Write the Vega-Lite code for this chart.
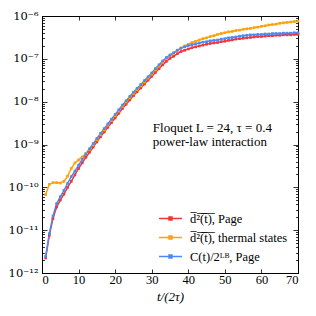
{
  "$schema": "https://vega.github.io/schema/vega-lite/v6.json",
  "width": 256,
  "height": 257,
  "autosize": "none",
  "padding": {"left": 42, "top": 16, "right": 18, "bottom": 43},
  "background": "white",
  "config": {
    "view": {"stroke": "black", "strokeWidth": 1},
    "axis": {"labelFont": "Liberation Serif", "labelFontSize": 12.5, "labelColor": "black", "tickColor": "black", "domainColor": "black", "domainWidth": 1, "tickWidth": 0.8, "grid": false, "titleFont": "Liberation Serif", "titleFontWeight": "normal", "titleColor": "black"}
  },
  "datasets": {
    "curves": [
      {"t":1,"s":"a","v":2.239e-12},{"t":2,"s":"a","v":7.586e-12},{"t":3,"s":"a","v":1.862e-11},{"t":4,"s":"a","v":3.467e-11},{"t":5,"s":"a","v":5.012e-11},{"t":6,"s":"a","v":6.918e-11},{"t":7,"s":"a","v":1.0e-10},{"t":8,"s":"a","v":1.380e-10},{"t":9,"s":"a","v":1.950e-10},{"t":10,"s":"a","v":2.754e-10},
      {"t":11,"s":"a","v":3.715e-10},{"t":12,"s":"a","v":5.012e-10},{"t":13,"s":"a","v":6.607e-10},{"t":14,"s":"a","v":8.710e-10},{"t":15,"s":"a","v":1.148e-9},{"t":16,"s":"a","v":1.514e-9},{"t":17,"s":"a","v":1.950e-9},{"t":18,"s":"a","v":2.512e-9},{"t":19,"s":"a","v":3.236e-9},{"t":20,"s":"a","v":4.169e-9},
      {"t":21,"s":"a","v":5.370e-9},{"t":22,"s":"a","v":6.918e-9},{"t":23,"s":"a","v":8.710e-9},{"t":24,"s":"a","v":1.096e-8},{"t":25,"s":"a","v":1.380e-8},{"t":26,"s":"a","v":1.698e-8},{"t":27,"s":"a","v":2.089e-8},{"t":28,"s":"a","v":2.570e-8},{"t":29,"s":"a","v":3.162e-8},{"t":30,"s":"a","v":3.890e-8},
      {"t":31,"s":"a","v":4.786e-8},{"t":32,"s":"a","v":5.888e-8},{"t":33,"s":"a","v":7.244e-8},{"t":34,"s":"a","v":8.710e-8},{"t":35,"s":"a","v":1.023e-7},{"t":36,"s":"a","v":1.148e-7},{"t":37,"s":"a","v":1.318e-7},{"t":38,"s":"a","v":1.479e-7},{"t":39,"s":"a","v":1.585e-7},{"t":40,"s":"a","v":1.698e-7},
      {"t":41,"s":"a","v":1.820e-7},{"t":42,"s":"a","v":1.905e-7},{"t":43,"s":"a","v":1.995e-7},{"t":44,"s":"a","v":2.089e-7},{"t":45,"s":"a","v":2.188e-7},{"t":46,"s":"a","v":2.291e-7},{"t":47,"s":"a","v":2.344e-7},{"t":48,"s":"a","v":2.399e-7},{"t":49,"s":"a","v":2.512e-7},{"t":50,"s":"a","v":2.570e-7},
      {"t":51,"s":"a","v":2.692e-7},{"t":52,"s":"a","v":2.754e-7},{"t":53,"s":"a","v":2.884e-7},{"t":54,"s":"a","v":2.951e-7},{"t":55,"s":"a","v":3.020e-7},{"t":56,"s":"a","v":3.090e-7},{"t":57,"s":"a","v":3.162e-7},{"t":58,"s":"a","v":3.236e-7},{"t":59,"s":"a","v":3.311e-7},{"t":60,"s":"a","v":3.311e-7},
      {"t":61,"s":"a","v":3.388e-7},{"t":62,"s":"a","v":3.467e-7},{"t":63,"s":"a","v":3.467e-7},{"t":64,"s":"a","v":3.548e-7},{"t":65,"s":"a","v":3.548e-7},{"t":66,"s":"a","v":3.631e-7},{"t":67,"s":"a","v":3.631e-7},{"t":68,"s":"a","v":3.631e-7},{"t":69,"s":"a","v":3.715e-7},{"t":70,"s":"a","v":3.715e-7},
      {"t":1,"s":"b","v":6.761e-11},{"t":2,"s":"b","v":1.175e-10},{"t":3,"s":"b","v":1.288e-10},{"t":4,"s":"b","v":1.288e-10},{"t":5,"s":"b","v":1.259e-10},{"t":6,"s":"b","v":1.380e-10},{"t":7,"s":"b","v":1.820e-10},{"t":8,"s":"b","v":2.754e-10},{"t":9,"s":"b","v":3.715e-10},{"t":10,"s":"b","v":4.365e-10},
      {"t":11,"s":"b","v":5.129e-10},{"t":12,"s":"b","v":6.166e-10},{"t":13,"s":"b","v":7.586e-10},{"t":14,"s":"b","v":9.772e-10},{"t":15,"s":"b","v":1.288e-9},{"t":16,"s":"b","v":1.698e-9},{"t":17,"s":"b","v":2.188e-9},{"t":18,"s":"b","v":2.818e-9},{"t":19,"s":"b","v":3.631e-9},{"t":20,"s":"b","v":4.677e-9},
      {"t":21,"s":"b","v":6.026e-9},{"t":22,"s":"b","v":7.762e-9},{"t":23,"s":"b","v":9.772e-9},{"t":24,"s":"b","v":1.230e-8},{"t":25,"s":"b","v":1.549e-8},{"t":26,"s":"b","v":1.905e-8},{"t":27,"s":"b","v":2.344e-8},{"t":28,"s":"b","v":2.884e-8},{"t":29,"s":"b","v":3.548e-8},{"t":30,"s":"b","v":4.365e-8},
      {"t":31,"s":"b","v":5.495e-8},{"t":32,"s":"b","v":6.761e-8},{"t":33,"s":"b","v":8.318e-8},{"t":34,"s":"b","v":1.0e-7},{"t":35,"s":"b","v":1.175e-7},{"t":36,"s":"b","v":1.349e-7},{"t":37,"s":"b","v":1.585e-7},{"t":38,"s":"b","v":1.778e-7},{"t":39,"s":"b","v":1.995e-7},{"t":40,"s":"b","v":2.188e-7},
      {"t":41,"s":"b","v":2.399e-7},{"t":42,"s":"b","v":2.570e-7},{"t":43,"s":"b","v":2.754e-7},{"t":44,"s":"b","v":2.951e-7},{"t":45,"s":"b","v":3.090e-7},{"t":46,"s":"b","v":3.311e-7},{"t":47,"s":"b","v":3.467e-7},{"t":48,"s":"b","v":3.715e-7},{"t":49,"s":"b","v":3.890e-7},{"t":50,"s":"b","v":4.074e-7},
      {"t":51,"s":"b","v":4.266e-7},{"t":52,"s":"b","v":4.365e-7},{"t":53,"s":"b","v":4.571e-7},{"t":54,"s":"b","v":4.677e-7},{"t":55,"s":"b","v":4.898e-7},{"t":56,"s":"b","v":5.012e-7},{"t":57,"s":"b","v":5.129e-7},{"t":58,"s":"b","v":5.370e-7},{"t":59,"s":"b","v":5.495e-7},{"t":60,"s":"b","v":5.754e-7},
      {"t":61,"s":"b","v":5.888e-7},{"t":62,"s":"b","v":6.166e-7},{"t":63,"s":"b","v":6.310e-7},{"t":64,"s":"b","v":6.457e-7},{"t":65,"s":"b","v":6.761e-7},{"t":66,"s":"b","v":6.918e-7},{"t":67,"s":"b","v":7.079e-7},{"t":68,"s":"b","v":7.244e-7},{"t":69,"s":"b","v":7.413e-7},{"t":70,"s":"b","v":7.586e-7},
      {"t":1,"s":"c","v":2.455e-12},{"t":2,"s":"c","v":8.318e-12},{"t":3,"s":"c","v":2.138e-11},{"t":4,"s":"c","v":4.169e-11},{"t":5,"s":"c","v":6.026e-11},{"t":6,"s":"c","v":8.511e-11},{"t":7,"s":"c","v":1.230e-10},{"t":8,"s":"c","v":1.778e-10},{"t":9,"s":"c","v":2.399e-10},{"t":10,"s":"c","v":3.311e-10},
      {"t":11,"s":"c","v":4.467e-10},{"t":12,"s":"c","v":6.026e-10},{"t":13,"s":"c","v":7.943e-10},{"t":14,"s":"c","v":1.047e-9},{"t":15,"s":"c","v":1.380e-9},{"t":16,"s":"c","v":1.820e-9},{"t":17,"s":"c","v":2.344e-9},{"t":18,"s":"c","v":3.020e-9},{"t":19,"s":"c","v":3.890e-9},{"t":20,"s":"c","v":5.012e-9},
      {"t":21,"s":"c","v":6.457e-9},{"t":22,"s":"c","v":8.318e-9},{"t":23,"s":"c","v":1.047e-8},{"t":24,"s":"c","v":1.318e-8},{"t":25,"s":"c","v":1.660e-8},{"t":26,"s":"c","v":2.042e-8},{"t":27,"s":"c","v":2.512e-8},{"t":28,"s":"c","v":3.090e-8},{"t":29,"s":"c","v":3.802e-8},{"t":30,"s":"c","v":4.677e-8},
      {"t":31,"s":"c","v":5.888e-8},{"t":32,"s":"c","v":7.244e-8},{"t":33,"s":"c","v":8.913e-8},{"t":34,"s":"c","v":1.072e-7},{"t":35,"s":"c","v":1.230e-7},{"t":36,"s":"c","v":1.380e-7},{"t":37,"s":"c","v":1.585e-7},{"t":38,"s":"c","v":1.778e-7},{"t":39,"s":"c","v":1.905e-7},{"t":40,"s":"c","v":2.042e-7},
      {"t":41,"s":"c","v":2.138e-7},{"t":42,"s":"c","v":2.239e-7},{"t":43,"s":"c","v":2.344e-7},{"t":44,"s":"c","v":2.455e-7},{"t":45,"s":"c","v":2.512e-7},{"t":46,"s":"c","v":2.630e-7},{"t":47,"s":"c","v":2.692e-7},{"t":48,"s":"c","v":2.754e-7},{"t":49,"s":"c","v":2.884e-7},{"t":50,"s":"c","v":2.951e-7},
      {"t":51,"s":"c","v":3.090e-7},{"t":52,"s":"c","v":3.162e-7},{"t":53,"s":"c","v":3.236e-7},{"t":54,"s":"c","v":3.388e-7},{"t":55,"s":"c","v":3.467e-7},{"t":56,"s":"c","v":3.548e-7},{"t":57,"s":"c","v":3.631e-7},{"t":58,"s":"c","v":3.631e-7},{"t":59,"s":"c","v":3.715e-7},{"t":60,"s":"c","v":3.715e-7},
      {"t":61,"s":"c","v":3.802e-7},{"t":62,"s":"c","v":3.802e-7},{"t":63,"s":"c","v":3.890e-7},{"t":64,"s":"c","v":3.890e-7},{"t":65,"s":"c","v":3.890e-7},{"t":66,"s":"c","v":3.981e-7},{"t":67,"s":"c","v":3.981e-7},{"t":68,"s":"c","v":3.981e-7},{"t":69,"s":"c","v":4.074e-7},{"t":70,"s":"c","v":4.074e-7}
    ],
    "notes": [
      {"k": 1, "t": 30.3, "v": 1.95e-9, "label": "Floquet L = 24, τ = 0.4"},
      {"k": 2, "t": 30.3, "v": 9.2e-10, "label": "power-law interaction"}
    ]
  },
  "layer": [
    {
      "data": {"name": "curves"},
      "mark": {"type": "line", "strokeWidth": 1.5},
      "encoding": {
        "x": {"field": "t", "type": "quantitative", "scale": {"domain": [0, 70], "nice": false, "zero": false},
              "axis": {"orient": "bottom", "values": [0,10,20,30,40,50,60,70], "tickSize": -4, "labelPadding": 4, "title": "t/(2τ)", "titleFontSize": 13, "titlePadding": 5, "titleFontStyle": "italic"}},
        "y": {"field": "v", "type": "quantitative", "scale": {"type": "log", "domain": [1e-12, 1e-6], "nice": false},
              "axis": {"orient": "left", "values": [1e-12,1e-11,1e-10,1e-9,1e-8,1e-7,1e-6], "tickSize": -5, "labelPadding": 9, "title": null, "labelFont": "DejaVu Serif", "labelFontSize": 11.5,
                       "labelExpr": "datum.value < 3e-12 ? '10⁻¹²' : datum.value < 3e-11 ? '10⁻¹¹' : datum.value < 3e-10 ? '10⁻¹⁰' : datum.value < 3e-9 ? '10⁻⁹' : datum.value < 3e-8 ? '10⁻⁸' : datum.value < 3e-7 ? '10⁻⁷' : '10⁻⁶'"}},
        "color": {"field": "s", "type": "nominal",
                  "scale": {"domain": ["a", "b", "c"], "range": ["#f0363a", "#ffa10a", "#4a8af4"]},
                  "legend": {"title": null, "orient": "bottom-right", "offset": 10, "padding": 0,
                             "labelFont": "Liberation Serif", "labelFontSize": 12.5, "labelColor": "black", "labelOffset": 7, "rowPadding": -7,
                             "symbolType": "M-1,0H1M-0.13,-0.13H0.13V0.13H-0.13Z", "symbolSize": 529, "symbolStrokeWidth": 1.5,
                             "labelExpr": "datum.value == 'a' ? 'd̅²̅(̅t̅)̅, Page' : datum.value == 'b' ? 'd̅²̅(̅t̅)̅, thermal states' : 'C(t)/2ᴸᴮ, Page'",
                             "encode": {"symbols": {"update": {"fill": {"scale": "color", "field": "value"}, "stroke": {"scale": "color", "field": "value"}}}}}}
      }
    },
    {
      "data": {"name": "curves"},
      "mark": {"type": "point", "shape": "square", "filled": true, "size": 7, "opacity": 1},
      "encoding": {
        "x": {"field": "t", "type": "quantitative", "axis": null},
        "y": {"field": "v", "type": "quantitative",
              "axis": {"orient": "left", "values": [2e-12,3e-12,4e-12,5e-12,6e-12,7e-12,8e-12,9e-12,2e-11,3e-11,4e-11,5e-11,6e-11,7e-11,8e-11,9e-11,2e-10,3e-10,4e-10,5e-10,6e-10,7e-10,8e-10,9e-10,2e-9,3e-9,4e-9,5e-9,6e-9,7e-9,8e-9,9e-9,2e-8,3e-8,4e-8,5e-8,6e-8,7e-8,8e-8,9e-8,2e-7,3e-7,4e-7,5e-7,6e-7,7e-7,8e-7,9e-7], "tickSize": -2.5, "labels": false, "domain": false, "title": null}},
        "color": {"field": "s", "type": "nominal"}
      }
    },
    {
      "data": {"name": "notes"},
      "transform": [{"filter": "datum.k == 1"}],
      "mark": {"type": "text", "align": "left", "baseline": "alphabetic", "font": "Liberation Serif", "fontSize": 13, "color": "black"},
      "encoding": {
        "x": {"field": "t", "type": "quantitative", "axis": {"orient": "top", "values": [0,10,20,30,40,50,60,70], "tickSize": -4, "labels": false, "title": null}},
        "y": {"field": "v", "type": "quantitative", "axis": {"orient": "right", "values": [1e-12,1e-11,1e-10,1e-9,1e-8,1e-7,1e-6], "tickSize": -5, "labels": false, "title": null}},
        "text": {"field": "label"}
      }
    },
    {
      "data": {"name": "notes"},
      "transform": [{"filter": "datum.k == 2"}],
      "mark": {"type": "text", "align": "left", "baseline": "alphabetic", "font": "Liberation Serif", "fontSize": 13, "color": "black"},
      "encoding": {
        "x": {"field": "t", "type": "quantitative", "axis": null},
        "y": {"field": "v", "type": "quantitative", "axis": {"orient": "right", "values": [2e-12,3e-12,4e-12,5e-12,6e-12,7e-12,8e-12,9e-12,2e-11,3e-11,4e-11,5e-11,6e-11,7e-11,8e-11,9e-11,2e-10,3e-10,4e-10,5e-10,6e-10,7e-10,8e-10,9e-10,2e-9,3e-9,4e-9,5e-9,6e-9,7e-9,8e-9,9e-9,2e-8,3e-8,4e-8,5e-8,6e-8,7e-8,8e-8,9e-8,2e-7,3e-7,4e-7,5e-7,6e-7,7e-7,8e-7,9e-7], "tickSize": -2.5, "labels": false, "domain": false, "title": null}},
        "text": {"field": "label"}
      }
    }
  ],
  "resolve": {"axis": {"x": "independent", "y": "independent"}}
}
